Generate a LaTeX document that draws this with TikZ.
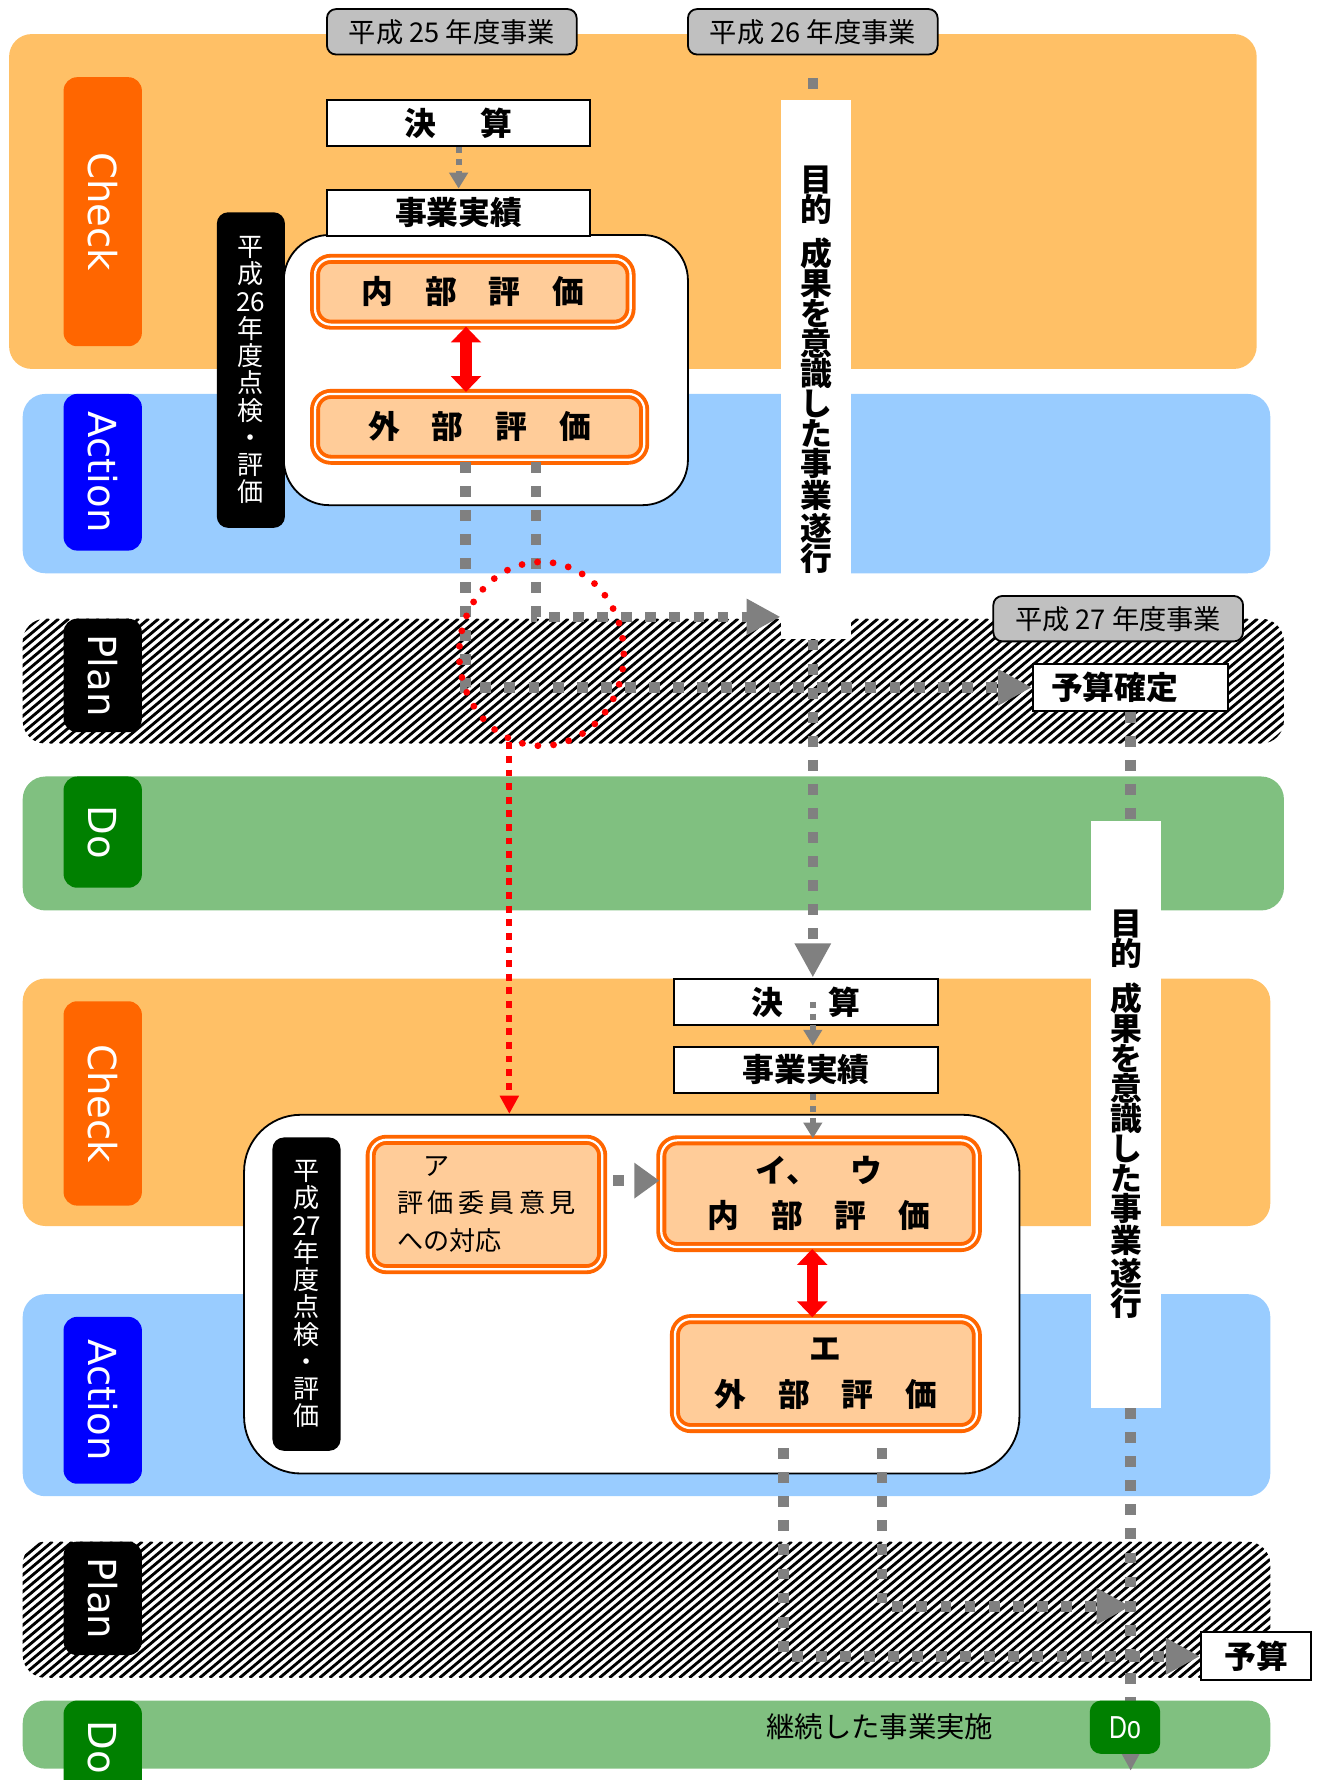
\documentclass[tikz,border=0pt]{standalone}
\usepackage{fontspec}
\setmainfont{DejaVu Sans}
\newfontfamily\jp{Noto Sans CJK JP}
\newfontfamily\narrowsans{Liberation Sans}
\usetikzlibrary{arrows.meta,shapes.geometric}
\definecolor{chkband}{RGB}{255,192,102}
\definecolor{chklbl}{RGB}{255,102,0}
\definecolor{actband}{RGB}{153,204,255}
\definecolor{actlbl}{RGB}{0,0,255}
\definecolor{doband}{RGB}{128,192,128}
\definecolor{dolbl}{RGB}{0,128,0}
\definecolor{evalfill}{RGB}{255,204,153}
\definecolor{evalline}{RGB}{255,102,0}
\definecolor{hdrfill}{RGB}{192,192,192}
\definecolor{dashgray}{RGB}{128,128,128}
\begin{document}
\begin{tikzpicture}[x=0.5pt,y=-0.5pt,
  stage/.style={rounded corners=6pt,text=white,rotate=-90,minimum height=34.5pt,inner sep=0pt,font=\fontsize{17}{17}\selectfont},
  hdr/.style={draw,line width=0.8pt,fill=hdrfill,rounded corners=4pt,minimum width=110pt,minimum height=20pt,inner sep=0pt,font=\jp\fontsize{12}{12}\selectfont},
  plainbox/.style={draw,line width=0.9pt,fill=white,minimum height=20.5pt,inner sep=0pt,font=\jp\bfseries\fontsize{14}{14}\selectfont},
  framebox/.style={draw,line width=0.8pt,fill=white,rounded corners=20pt,inner sep=0pt},
  yrlbl/.style={fill=black,text=white,rounded corners=5pt,minimum width=30pt,minimum height=139pt,inner sep=0pt,align=center,font=\jp\fontsize{11.5}{12}\selectfont},
  barbox/.style={fill=white,minimum width=31pt,inner sep=0pt,align=center,font=\jp\bfseries\fontsize{14}{13.2}\selectfont},
  evalbox/.style={draw=evalline,double=white,double distance=1pt,line width=1.7pt,fill=evalfill,rounded corners=7pt,inner sep=0pt,align=center,font=\jp\bfseries\fontsize{14}{20}\selectfont},
  gdash/.style={draw=dashgray,line width=4.6pt,dash pattern=on 4.8pt off 5.8pt},
  gtip/.style={-{Triangle[length=15pt,width=15pt]}},
  gsmall/.style={draw=dashgray,line width=2.6pt,dash pattern=on 2.6pt off 2.6pt,-{Triangle[length=7pt,width=8pt]}},
  rarrow/.style={draw=red,line width=5pt,{Triangle[length=7pt,width=13pt]}-{Triangle[length=7pt,width=13pt]}},
  rloop/.style={ellipse,draw=red,line width=3pt,line cap=round,dash pattern=on 0pt off 6.9pt,inner sep=0pt},
  rline/.style={draw=red,line width=2.6pt,dash pattern=on 3pt off 3pt,-{Triangle[length=8pt,width=8pt]}},
  stripe/.style={line width=1.25pt}]
\useasboundingbox (0,0) rectangle (1162,1568);
\fill[chkband,rounded corners=10pt] (8,30) rectangle (1107,325);
\fill[actband,rounded corners=10pt] (20,347) rectangle (1119,505);
\begin{scope}
\clip[rounded corners=10pt] (20,545) rectangle (1131,655);
\foreach \k in {-16,...,129} \draw[stripe] ({\k*8.8},655) -- ++(131,-110);
\end{scope}
\fill[doband,rounded corners=10pt] (20,684) rectangle (1131,802);
\fill[chkband,rounded corners=10pt] (20,862) rectangle (1119,1080);
\fill[actband,rounded corners=10pt] (20,1140) rectangle (1119,1318);
\begin{scope}
\clip[rounded corners=10pt] (20,1358) rectangle (1119,1478);
\foreach \k in {-17,...,128} \draw[stripe] ({\k*8.8},1478) -- ++(143,-120);
\end{scope}
\fill[doband,rounded corners=10pt] (20,1498) rectangle (1119,1558);
\node[stage,fill=chklbl,minimum width=118.5pt] (chk1) at (90.5,186.5) {Check};
\node[stage,fill=actlbl,minimum width=69pt] (act1) at (90.5,416) {Action};
\node[stage,fill=black,minimum width=50pt] (pln1) at (90.5,595) {Plan};
\node[stage,fill=dolbl,minimum width=49pt] (do1) at (90.5,733) {Do};
\node[stage,fill=chklbl,minimum width=90pt] (chk2) at (90.5,972) {Check};
\node[stage,fill=actlbl,minimum width=73.5pt] (act2) at (90.5,1233.5) {Action};
\node[stage,fill=black,minimum width=50pt] (pln2) at (90.5,1408) {Plan};
\node[stage,fill=dolbl,minimum width=41pt] (do2) at (90.5,1539) {Do};
\node[framebox,minimum width=178pt,minimum height=119pt] (eval1) at (428,326) {};
\node[framebox,minimum width=341.5pt,minimum height=158pt,rounded corners=25pt] (eval2) at (556.5,1140) {};
\node[yrlbl] (yr26) at (221,326) {平\\成\\26\\年\\度\\点\\検\\・\\評\\価};
\node[yrlbl,minimum height=138pt] (yr27) at (270,1140) {平\\成\\27\\年\\度\\点\\検\\・\\評\\価};
\node[hdr] (h25) at (398,28) {平成 25 年度事業};
\node[hdr] (h26) at (716,28) {平成 26 年度事業};
\node[hdr] (h27) at (985,545) {平成 27 年度事業};
\node[barbox,minimum height=237.5pt] (bar1) at (719,325.5) {目\\的\\[5pt]成\\果\\を\\意\\識\\し\\た\\事\\業\\遂\\行};
\node[barbox,minimum height=258.5pt] (bar2) at (992,981.5) {目\\的\\[5pt]成\\果\\を\\意\\識\\し\\た\\事\\業\\遂\\行};
\node[plainbox,minimum width=116pt] (kessan1) at (404,108.5) {決\hspace{1.4em}算};
\node[plainbox,minimum width=116pt] (jisseki1) at (404,187.5) {事業実績};
\node[plainbox,minimum width=116pt] (kessan2) at (710,882.5) {決\hspace{1.4em}算};
\node[plainbox,minimum width=116pt] (jisseki2) at (710,942.5) {事業実績};
\node[plainbox,minimum width=86pt] (yosan1) at (996,605.5) {予算確定\hspace*{1em}};
\node[plainbox,minimum width=48.5pt,minimum height=21pt] (yosan2) at (1106.5,1459) {予算};
\node[evalbox,minimum width=139pt,minimum height=29pt] (naibu1) at (416.5,257) {内　部　評　価};
\node[evalbox,minimum width=145pt,minimum height=29pt] (gaibu1) at (422.5,376) {外　部　評　価};
\node[evalbox,minimum width=102pt,minimum height=57pt,align=left,font=\jp\fontsize{11.5}{16.5}\selectfont] (iken) at (428.5,1061) {\hspace*{1em}ア\\評\,価\,委\,員\,意\,見\\への対応};
\node[evalbox,minimum width=139pt,minimum height=47pt] (naibu2) at (721.5,1051.5) {イ、　ウ\\内　部　評　価};
\node[evalbox,minimum width=133pt,minimum height=48pt] (gaibu2) at (727.5,1210) {エ\\外　部　評　価};
\node[font=\jp\fontsize{12.5}{12.5}\selectfont] (keizoku) at (775,1521) {継続した事業実施};
\coordinate (tip) at (996,1560);
\coordinate (p2) at (996,1415);
\draw[gsmall] (kessan1.south) -- (jisseki1.north);
\draw[gdash,gtip] ([xshift=-6.25pt]gaibu1.south) |- (yosan1.west);
\draw[gdash,gtip] ([xshift=24.75pt]gaibu1.south) |- ([yshift=10pt]bar1.south west);
\draw[gdash] ([yshift=-10pt]h26.south) -- (h26.south |- bar1.north);
\draw[gdash,gtip] (h26.south |- bar1.south) -- (h26.south |- kessan2.north);
\draw[gsmall] (kessan2.center -| h26.south) -- (jisseki2.north -| h26.south);
\draw[gsmall] (jisseki2.south -| h26.south) -- (naibu2.north -| h26.south);
\draw[gdash] (yosan1.south) -- (yosan1.south |- bar2.north);
\draw[gdash,gtip] (yosan1.south |- bar2.south) -- (tip);
\draw[gdash,gtip,shorten <=8pt] ([xshift=-18.75pt]gaibu2.south) |- (yosan2.west);
\draw[gdash,gtip,shorten <=8pt] ([xshift=24.75pt]gaibu2.south) |- (p2);
\draw[gdash,-{Triangle[length=11pt,width=15pt]},shorten <=4pt] ([yshift=10.5pt]iken.east) -- ([yshift=10.5pt]iken.east -| naibu2.west);
\draw[rarrow] ([xshift=-3pt]naibu1.south) -- ([xshift=-3pt]naibu1.south |- gaibu1.north);
\draw[rarrow] ([xshift=-3pt]naibu2.south) -- ([xshift=-3pt]naibu2.south |- gaibu2.north);
\node[rloop,minimum width=72.5pt,minimum height=81pt] (redloop) at (477,576) {};
\draw[rline] (redloop.-110) -- (redloop.-110 |- eval2.north);
\node[fill=dolbl,rounded corners=5pt,minimum width=31pt,minimum height=23.5pt,inner sep=0pt,text=white,font=\narrowsans\fontsize{14}{14}\selectfont] (dosmall) at (991,1521.5) {\scalebox{0.78}[1]{Do}};
\end{tikzpicture}
\end{document}
